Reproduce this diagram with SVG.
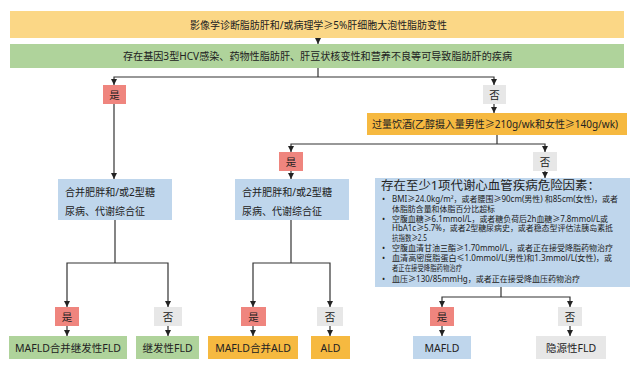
<svg xmlns="http://www.w3.org/2000/svg" width="633" height="368" viewBox="0 0 633 368">
<defs>
<marker id="ah" viewBox="0 0 6 6" refX="6" refY="3" markerWidth="6" markerHeight="6" markerUnits="userSpaceOnUse" orient="auto">
<path d="M0,0 L6,3 L0,6 z" fill="#222"/>
</marker>
<style>
text{font-family:"Noto Sans","Noto Sans CJK SC",sans-serif;fill:#222;}
.c{text-anchor:middle;}
.t{font-size:10.5px;}
.yn{font-size:10.5px;text-anchor:middle;}
.s{font-size:8.4px;}
.ln{fill:none;stroke:#333;stroke-width:1.2;}
.ar{fill:none;stroke:#333;stroke-width:1.2;marker-end:url(#ah);}
.yel{fill:#fbd786;}
.grn{fill:#afd39b;}
.blu{fill:#bfd6ec;}
.gry{fill:#e7e7e7;}
.red{fill:#ef857e;}
.org{fill:#f6b940;}
</style>
</defs>
<rect width="633" height="368" fill="#ffffff"/>

<g id="connectors">
<line class="ar" x1="318" y1="38" x2="318" y2="44"/>
<polyline class="ln" points="318,68 318,77"/>
<polyline class="ar" points="318,77 114,77 114,85"/>
<polyline class="ar" points="318,77 494,77 494,85"/>
<line class="ar" x1="494" y1="104" x2="494" y2="113"/>
<line class="ar" x1="114" y1="104" x2="114" y2="179"/>
<polyline class="ln" points="497,135 497,144"/>
<polyline class="ar" points="497,144 291,144 291,152"/>
<polyline class="ar" points="497,144 545,144 545,152"/>
<line class="ar" x1="291" y1="171" x2="291" y2="179"/>
<line class="ar" x1="545" y1="171" x2="545" y2="178"/>
<polyline class="ln" points="115,220 115,263"/>
<polyline class="ar" points="115,263 67,263 67,307"/>
<polyline class="ar" points="115,263 168,263 168,307"/>
<line class="ar" x1="67" y1="326" x2="67" y2="336"/>
<line class="ar" x1="168" y1="326" x2="168" y2="336"/>
<polyline class="ln" points="291,220 291,263"/>
<polyline class="ar" points="291,263 253,263 253,307"/>
<polyline class="ar" points="291,263 330,263 330,307"/>
<line class="ar" x1="253" y1="326" x2="253" y2="336"/>
<line class="ar" x1="330" y1="326" x2="330" y2="336"/>
<polyline class="ln" points="501,287 501,297"/>
<polyline class="ar" points="501,297 442,297 442,307"/>
<polyline class="ar" points="501,297 570,297 570,307"/>
<line class="ar" x1="442" y1="326" x2="442" y2="336"/>
<line class="ar" x1="570" y1="326" x2="570" y2="336"/>
</g>

<g id="n-top">
<rect class="yel" x="10" y="11" width="614" height="27"/>
<text class="t" x="190" y="28.5" textLength="257" lengthAdjust="spacingAndGlyphs">影像学诊断脂肪肝和/或病理学≥5%肝细胞大泡性脂肪变性</text>
</g>
<g id="n-disease">
<rect class="grn" x="10" y="44" width="614" height="24"/>
<text class="t" x="123" y="60" textLength="389" lengthAdjust="spacingAndGlyphs">存在基因3型HCV感染、药物性脂肪肝、肝豆状核变性和营养不良等可导致脂肪肝的疾病</text>
</g>
<g id="n-yes1">
<rect class="red" x="103" y="85" width="23" height="19"/>
<text class="yn" x="114.5" y="98.5">是</text>
</g>
<g id="n-no1">
<rect class="gry" x="483" y="85" width="23" height="19"/>
<text class="yn" x="494.5" y="98.5">否</text>
</g>
<g id="n-alcohol">
<rect class="org" x="367" y="113" width="260" height="22"/>
<text class="t" x="372" y="128" textLength="246" lengthAdjust="spacingAndGlyphs">过量饮酒(乙醇摄入量男性≥210g/wk和女性≥140g/wk)</text>
</g>
<g id="n-yes2">
<rect class="red" x="279" y="152" width="24" height="19"/>
<text class="yn" x="291" y="165.5">是</text>
</g>
<g id="n-no2">
<rect class="gry" x="533" y="152" width="24" height="19"/>
<text class="yn" x="545" y="165.5">否</text>
</g>
<g id="n-left-cond">
<rect class="blu" x="58" y="179" width="114" height="41"/>
<text class="t" x="65" y="196" textLength="90" lengthAdjust="spacingAndGlyphs">合并肥胖和/或2型糖</text>
<text class="t" x="65" y="214.5" textLength="80" lengthAdjust="spacingAndGlyphs">尿病、代谢综合征</text>
</g>
<g id="n-mid-cond">
<rect class="blu" x="235" y="179" width="114" height="41"/>
<text class="t" x="242" y="196" textLength="90" lengthAdjust="spacingAndGlyphs">合并肥胖和/或2型糖</text>
<text class="t" x="242" y="214.5" textLength="80" lengthAdjust="spacingAndGlyphs">尿病、代谢综合征</text>
</g>
<g id="n-risk">
<rect class="blu" x="375" y="178" width="255" height="109"/>
<text x="381" y="189.5" style="font-size:12px" textLength="219" lengthAdjust="spacingAndGlyphs">存在至少1项代谢心血管疾病危险因素：</text>
<text class="s" x="382" y="202.2">•</text>
<text class="s" x="392" y="202.2" textLength="226" lengthAdjust="spacingAndGlyphs">BMI≥24.0kg/m²，或者腰围≥90cm(男性) 和85cm(女性)，或者</text>
<text class="s" x="392" y="211.7" textLength="103" lengthAdjust="spacingAndGlyphs">体脂肪含量和体脂百分比超标</text>
<text class="s" x="382" y="221.7">•</text>
<text class="s" x="392" y="221.7" textLength="216" lengthAdjust="spacingAndGlyphs">空腹血糖≥6.1mmol/L，或者糖负荷后2h血糖≥7.8mmol/L或</text>
<text class="s" x="392" y="231.2" textLength="221" lengthAdjust="spacingAndGlyphs">HbA1c≥5.7%，或者2型糖尿病史，或者稳态型评估法胰岛素抵</text>
<text class="s" x="392" y="240.7" textLength="35" lengthAdjust="spacingAndGlyphs">抗指数≥2.5</text>
<text class="s" x="382" y="251">•</text>
<text class="s" x="392" y="251" textLength="221" lengthAdjust="spacingAndGlyphs">空腹血清甘油三酯≥1.70mmol/L，或者正在接受降脂药物治疗</text>
<text class="s" x="382" y="261">•</text>
<text class="s" x="392" y="261" textLength="220" lengthAdjust="spacingAndGlyphs">血清高密度脂蛋白≤1.0mmol/L(男性)和1.3mmol/L(女性)，或</text>
<text class="s" x="392" y="270.9" textLength="70" lengthAdjust="spacingAndGlyphs">者正在接受降脂药物治疗</text>
<text class="s" x="382" y="281.7">•</text>
<text class="s" x="392" y="281.7" textLength="188" lengthAdjust="spacingAndGlyphs">血压≥130/85mmHg，或者正在接受降血压药物治疗</text>
</g>
<g id="n-yes3">
<rect class="red" x="55" y="307" width="24" height="19"/>
<text class="yn" x="67" y="320.5">是</text>
</g>
<g id="n-no3">
<rect class="gry" x="154" y="307" width="28" height="19"/>
<text class="yn" x="168" y="320.5">否</text>
</g>
<g id="n-yes4">
<rect class="red" x="241" y="307" width="25" height="19"/>
<text class="yn" x="253.5" y="320.5">是</text>
</g>
<g id="n-no4">
<rect class="gry" x="317" y="307" width="26" height="19"/>
<text class="yn" x="330" y="320.5">否</text>
</g>
<g id="n-yes5">
<rect class="red" x="430" y="307" width="24" height="19"/>
<text class="yn" x="442" y="320.5">是</text>
</g>
<g id="n-no5">
<rect class="gry" x="558" y="307" width="24" height="19"/>
<text class="yn" x="570" y="320.5">否</text>
</g>
<g id="r-mafld-sec">
<rect class="grn" x="9" y="336" width="118" height="23"/>
<text class="t c" x="68" y="351.5">MAFLD合并继发性FLD</text>
</g>
<g id="r-sec">
<rect class="grn" x="136" y="336" width="63" height="23"/>
<text class="t c" x="167.5" y="351.5">继发性FLD</text>
</g>
<g id="r-mafld-ald">
<rect class="org" x="208" y="336" width="90" height="23"/>
<text class="t c" x="253" y="351.5">MAFLD合并ALD</text>
</g>
<g id="r-ald">
<rect class="org" x="311" y="336" width="39" height="23"/>
<text class="t c" x="330.5" y="351.5">ALD</text>
</g>
<g id="r-mafld">
<rect class="blu" x="413" y="336" width="58" height="23"/>
<text class="t c" x="442" y="351.5">MAFLD</text>
</g>
<g id="r-crypto">
<rect class="gry" x="536" y="336" width="70" height="23"/>
<text class="t c" x="571" y="351.5">隐源性FLD</text>
</g>
</svg>
